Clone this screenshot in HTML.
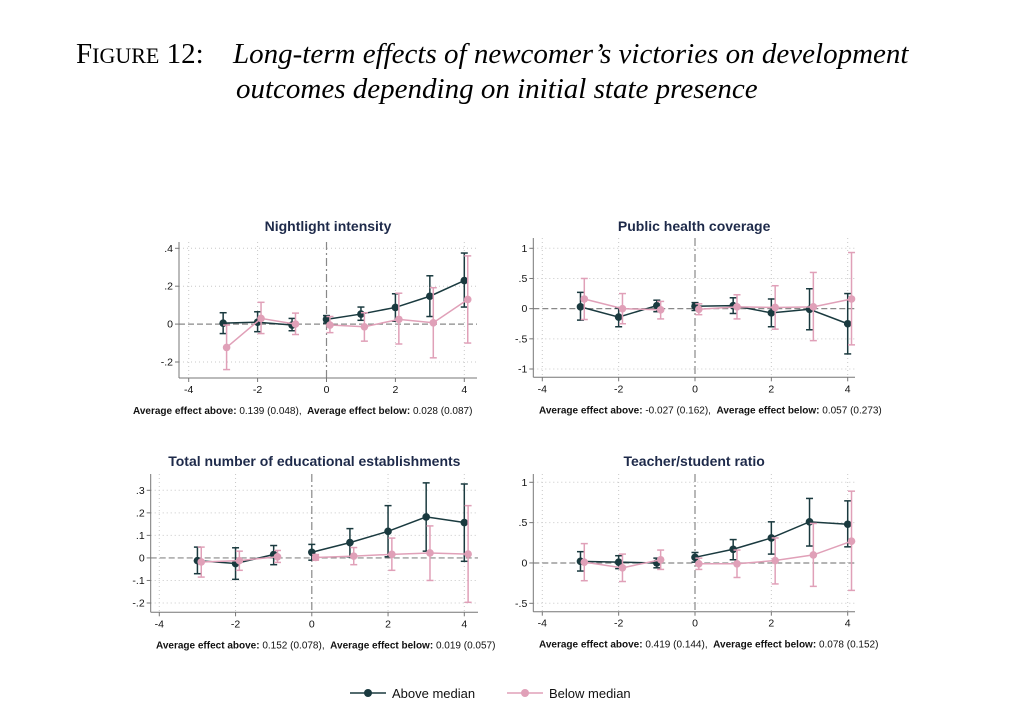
<!DOCTYPE html>
<html><head><meta charset="utf-8">
<style>
body{margin:0;background:#fff;width:1036px;height:722px;overflow:hidden;}
svg{position:absolute;left:0;top:0;}
.ttl{font-family:"Liberation Serif",serif;font-size:29px;fill:#000;}
.pt{font-family:"Liberation Sans",sans-serif;font-size:14px;font-weight:bold;fill:#1e2a4a;}
.tk{font-family:"Liberation Sans",sans-serif;font-size:10.5px;fill:#111;}
.ft{font-family:"Liberation Sans",sans-serif;font-size:10px;fill:#111;}
.lg{font-family:"Liberation Sans",sans-serif;font-size:13px;fill:#111;}
</style></head>
<body>
<svg id="fig" width="1036" height="722">
<text class="ttl" x="76" y="63">F<tspan font-size="22">IGURE</tspan> 12:</text>
<text class="ttl" x="233" y="63" font-style="italic">Long-term effects of newcomer’s victories on development</text>
<text class="ttl" x="236" y="98" font-style="italic">outcomes depending on initial state presence</text>
<g>
<line x1="350" y1="693" x2="386" y2="693" stroke="#1a3a3f" stroke-width="1.5"/>
<circle cx="368" cy="693" r="4" fill="#1a3a3f"/>
<text class="lg" x="392" y="698">Above median</text>
<line x1="507" y1="693" x2="543" y2="693" stroke="#e0a0b8" stroke-width="1.5"/>
<circle cx="525" cy="693" r="4" fill="#e0a0b8"/>
<text class="lg" x="549" y="698">Below median</text>
</g>
</svg>
<script>
const periods=[-3,-2,-1,0,1,2,3,4];
// Panel 1: Nightlight intensity
const p1Above=[0.005,0.01,-0.005,0.025,0.053,0.088,0.147,0.23];
const p1AboveLo=[-0.05,-0.04,-0.035,0.005,0.02,0.015,0.04,0.09];
const p1AboveHi=[0.06,0.065,0.03,0.045,0.09,0.16,0.255,0.375];
const p1Below=[-0.123,0.03,0,-0.005,-0.014,0.025,0.007,0.13];
const p1BelowLo=[-0.24,-0.05,-0.055,-0.045,-0.09,-0.105,-0.178,-0.1];
const p1BelowHi=[-0.005,0.115,0.058,0.04,0.06,0.163,0.192,0.36];
const p1YTicks=[0.4,0.2,0,-0.2];
const p1YLabels=[".4",".2","0","-.2"];
// Panel 2: Public health coverage
const p2Above=[0.03,-0.14,0.05,0.04,0.05,-0.07,-0.01,-0.25];
const p2AboveLo=[-0.19,-0.3,-0.05,-0.03,-0.08,-0.3,-0.35,-0.75];
const p2AboveHi=[0.27,0.01,0.14,0.1,0.18,0.16,0.33,0.25];
const p2Below=[0.16,0,-0.02,-0.01,0.03,0.02,0.03,0.16];
const p2BelowLo=[-0.18,-0.25,-0.17,-0.1,-0.17,-0.34,-0.53,-0.6];
const p2BelowHi=[0.5,0.25,0.12,0.08,0.23,0.38,0.6,0.93];
const p2YTicks=[1,0.5,0,-0.5,-1];
const p2YLabels=["1",".5","0","-.5","-1"];
// Panel 3: Total number of educational establishments
const p3Above=[-0.012,-0.025,0.015,0.025,0.068,0.118,0.182,0.157];
const p3AboveLo=[-0.07,-0.095,-0.03,-0.01,0.005,0.005,0.03,-0.015];
const p3AboveHi=[0.048,0.045,0.055,0.06,0.13,0.232,0.333,0.328];
const p3Below=[-0.018,-0.012,0.005,0.002,0.008,0.016,0.022,0.017];
const p3BelowLo=[-0.085,-0.055,-0.02,-0.01,-0.03,-0.055,-0.1,-0.197];
const p3BelowHi=[0.048,0.03,0.033,0.015,0.046,0.088,0.142,0.232];
const p3YTicks=[0.3,0.2,0.1,0,-0.1,-0.2];
const p3YLabels=[".3",".2",".1","0","-.1","-.2"];
// Panel 4: Teacher/student ratio
const p4Above=[0.02,0.01,0,0.07,0.17,0.31,0.51,0.48];
const p4AboveLo=[-0.1,-0.07,-0.06,0.01,0.04,0.11,0.21,0.2];
const p4AboveHi=[0.14,0.09,0.06,0.13,0.29,0.51,0.8,0.77];
const p4Below=[0.01,-0.06,0.04,-0.01,-0.01,0.03,0.1,0.27];
const p4BelowLo=[-0.22,-0.23,-0.08,-0.08,-0.18,-0.26,-0.29,-0.34];
const p4BelowHi=[0.24,0.11,0.16,0.06,0.16,0.31,0.49,0.89];
const p4YTicks=[1,0.5,0,-0.5];
const p4YLabels=["1",".5","0","-.5"];
const xTicks=[-4,-2,0,2,4];

const panels=[
 {name:"nightlight",title:"Nightlight intensity",titleY:231,foot:["0.139 (0.048)","0.028 (0.087)"],footX:133,
  ax:179,ax2:477,top:242,bot:378,xm4:188.7,xp4:464.3,yA:0.4,pA:248.3,yB:-0.2,pB:362,
  d:[p1Above,p1AboveLo,p1AboveHi,p1Below,p1BelowLo,p1BelowHi],yt:p1YTicks,yl:p1YLabels},
 {name:"public-health",title:"Public health coverage",titleY:231,foot:["-0.027 (0.162)","0.057 (0.273)"],footX:539,
  ax:533.3,ax2:855,top:238,bot:377.3,xm4:542.3,xp4:847.7,yA:1,pA:248.3,yB:-1,pB:369,
  d:[p2Above,p2AboveLo,p2AboveHi,p2Below,p2BelowLo,p2BelowHi],yt:p2YTicks,yl:p2YLabels},
 {name:"education",title:"Total number of educational establishments",titleY:466,foot:["0.152 (0.078)","0.019 (0.057)"],footX:156,
  ax:150.7,ax2:478,top:474,bot:612.3,xm4:159.3,xp4:464.3,yA:0.3,pA:490.3,yB:-0.2,pB:603,
  d:[p3Above,p3AboveLo,p3AboveHi,p3Below,p3BelowLo,p3BelowHi],yt:p3YTicks,yl:p3YLabels},
 {name:"teacher-student",title:"Teacher/student ratio",titleY:466,foot:["0.419 (0.144)","0.078 (0.152)"],footX:539,
  ax:533.3,ax2:855,top:474,bot:611.7,xm4:542.3,xp4:847.7,yA:1,pA:482.3,yB:-0.5,pB:603.3,
  d:[p4Above,p4AboveLo,p4AboveHi,p4Below,p4BelowLo,p4BelowHi],yt:p4YTicks,yl:p4YLabels}
];
const NS="http://www.w3.org/2000/svg";
const svg=document.getElementById('fig');
function mk(tag,attrs,parent){const e=document.createElementNS(NS,tag);for(const k in attrs)e.setAttribute(k,attrs[k]);parent.appendChild(e);return e;}
const DARK="#1a3a3f",PINK="#e0a0b8";
panels.forEach(p=>{
 const g=mk('g',{},svg);
 
 
 const X=v=>p.xm4+(v+4)*(p.xp4-p.xm4)/8;
 const Y=v=>p.pA+(v-p.yA)*(p.pB-p.pA)/(p.yB-p.yA);
 const t=mk('text',{class:'pt',x:(p.ax+p.ax2)/2,y:p.titleY,'text-anchor':'middle'},g);
 t.textContent=p.title;
 
 
 p.yt.forEach((v,i)=>{
  if(v!==0) mk('line',{x1:p.ax,x2:p.ax2,y1:Y(v),y2:Y(v),stroke:'#c8c8c8','stroke-dasharray':'1 3','stroke-width':1},g);
  mk('line',{x1:p.ax-4,x2:p.ax,y1:Y(v),y2:Y(v),stroke:'#777'},g);
  const tl=mk('text',{class:'tk',x:p.ax-6,y:Y(v)+3.5,'text-anchor':'end'},g);
  tl.textContent=p.yl[i];
  
  
 });
 xTicks.forEach(v=>{
  if(v!==0) mk('line',{x1:X(v),x2:X(v),y1:p.top,y2:p.bot,stroke:'#c8c8c8','stroke-dasharray':'1 3'},g);
  mk('line',{x1:X(v),x2:X(v),y1:p.bot,y2:p.bot+4,stroke:'#777'},g);
  const tl=mk('text',{class:'tk',x:X(v),y:p.bot+15,'text-anchor':'middle'},g);
  tl.textContent=String(v);
  
  
 });
 mk('line',{x1:p.ax,x2:p.ax2,y1:Y(0),y2:Y(0),stroke:'#888','stroke-dasharray':'6 3','stroke-width':1.2},g);
 mk('line',{x1:X(0),x2:X(0),y1:p.top,y2:p.bot,stroke:'#888','stroke-dasharray':'8 3 2 3','stroke-width':1.2},g);
 mk('line',{x1:p.ax,x2:p.ax,y1:p.top,y2:p.bot,stroke:'#777'},g);
 mk('line',{x1:p.ax,x2:p.ax2,y1:p.bot,y2:p.bot,stroke:'#777'},g);
 [[0,DARK,0,'above'],[3,PINK,0.1,'below']].forEach(([k,c,off,nm])=>{
  const m=p.d[k],lo=p.d[k+1],hi=p.d[k+2];
  const sg=mk('g',{},g);
  
  
  const pre=[],post=[];
  periods.forEach((pp,i)=>{(pp<0?pre:post).push(X(pp+off)+','+Y(m[i]));});
  [pre,post].forEach(a=>mk('polyline',{points:a.join(' '),fill:'none',stroke:c,'stroke-width':1.5},sg));
  periods.forEach((pp,i)=>{
   const x=X(pp+off);
   mk('line',{x1:x,x2:x,y1:Y(lo[i]),y2:Y(hi[i]),stroke:c,'stroke-width':1.5},sg);
   mk('line',{x1:x-3.5,x2:x+3.5,y1:Y(lo[i]),y2:Y(lo[i]),stroke:c,'stroke-width':1.5},sg);
   mk('line',{x1:x-3.5,x2:x+3.5,y1:Y(hi[i]),y2:Y(hi[i]),stroke:c,'stroke-width':1.5},sg);
   const pt=mk('circle',{cx:x,cy:Y(m[i]),r:3.8,fill:c},sg);
   
   
  });
 });
 const f=mk('text',{class:'ft',x:p.footX,y:p.bot+36},g);
 f.innerHTML='<tspan font-weight="bold">Average effect above:</tspan> '+p.foot[0]+',\u00a0 <tspan font-weight="bold">Average effect below:</tspan> '+p.foot[1];
 
 
});
</script>
</body></html>
